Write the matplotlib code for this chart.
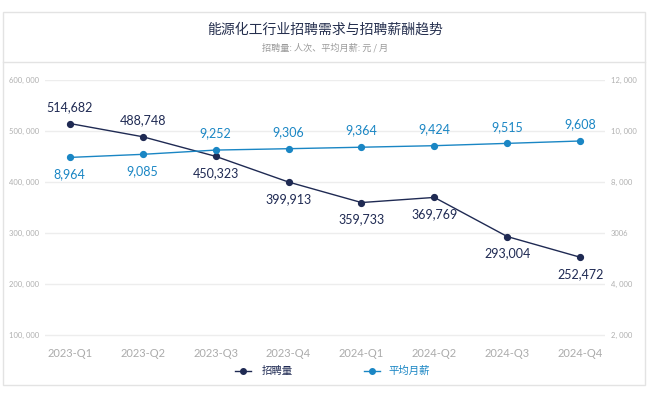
import matplotlib
matplotlib.use("Agg")
import matplotlib.pyplot as plt
from matplotlib.patches import Rectangle
from matplotlib.lines import Line2D

quarters = ["2023-Q1", "2023-Q2", "2023-Q3", "2023-Q4", "2024-Q1", "2024-Q2", "2024-Q3", "2024-Q4"]
recruit = [514682, 488748, 450323, 399913, 359733, 369769, 293004, 252472]
salary = [8964, 9085, 9252, 9306, 9364, 9424, 9515, 9608]
left_ticks = [100000, 200000, 300000, 400000, 500000, 600000]
left_labels = ["100, 000", "200, 000", "300, 000", "400, 000", "500, 000", "600, 000"]
right_ticks = [2000, 4000, 6000, 8000, 10000, 12000]
right_labels = ["2, 000", "4, 000", "3006", "8, 000", "10, 000", "12, 000"]
recruit_pos = ["above", "above", "below", "below", "below", "below", "below", "below"]
salary_pos = ["below", "below", "above", "above", "above", "above", "above", "above"]

CJK = ["Noto Sans CJK SC", "DejaVu Sans"]
NUM = ["Lato", "Noto Sans CJK SC", "DejaVu Sans"]
plt.rcParams['font.family'] = CJK

NAVY = "#1f2a53"
BLUE = "#1a86c4"
GRID = "#ededed"
TICK = "#b0b0b0"

fig = plt.figure(figsize=(6.5, 3.96), dpi=100)
W, H = 650, 396

# frame
fig.patches.append(Rectangle((3 / W, 1 - 385 / H), 642 / W, 373 / H, transform=fig.transFigure,
                             fill=False, edgecolor="#e3e3e3", linewidth=1.0))
fig.lines.append(Line2D([3 / W, 645 / W], [1 - 62 / H, 1 - 62 / H], transform=fig.transFigure,
                        color="#e3e3e3", linewidth=1.0))

fig.text(0.5, 1 - 30 / H, "能源化工行业招聘需求与招聘薪酬趋势", ha="center", va="center",
         fontsize=10, color="#26304f", family=CJK, fontweight="medium")
fig.text(0.5, 1 - 48 / H, "招聘量: 人次、平均月薪: 元 / 月", ha="center", va="center",
         fontsize=6.6, color="#9a9a9a", family=CJK)

ax = fig.add_axes([45 / W, 1 - 340 / H, 560 / W, 260 / H])
ax2 = ax.twinx()
x = list(range(len(quarters)))

ax.set_xlim(-0.34, 7.34)
ax.set_ylim(90200, 600000)
ax2.set_ylim(1804, 12000)

for a in (ax, ax2):
    for s in a.spines.values():
        s.set_visible(False)
    a.tick_params(length=0)

ax.set_yticks(left_ticks)
ax.set_yticklabels(left_labels, fontsize=5.5, color=TICK, family=NUM)
ax2.set_yticks(right_ticks)
ax2.set_yticklabels(right_labels, fontsize=5.5, color=TICK, family=NUM)
ax.tick_params(axis="y", pad=4)
ax2.tick_params(axis="y", pad=4)
ax.grid(axis="y", color=GRID, linewidth=1.0)
ax.set_axisbelow(True)
ax.set_xticks(x)
ax.set_xticklabels(quarters, fontsize=8, color="#ababab", family=NUM)
ax.tick_params(axis="x", pad=6)

ax.plot(x, recruit, color=NAVY, linewidth=1.0, marker="o", markersize=4.2, zorder=3)
ax2.plot(x, salary, color=BLUE, linewidth=1.0, marker="o", markersize=4.2, zorder=3)

for xi, v, p in zip(x, recruit, recruit_pos):
    off = 12 if p == "above" else -12
    ax.annotate(f"{v:,}", (xi, v), xytext=(0, off), textcoords="offset points",
                ha="center", va="center", fontsize=9, color=NAVY, family=NUM)
for xi, v, p in zip(x, salary, salary_pos):
    off = 12 if p == "above" else -12
    ax2.annotate(f"{v:,}", (xi, v), xytext=(0, off), textcoords="offset points",
                 ha="center", va="center", fontsize=9, color=BLUE, family=NUM)

# legend
ly = 1 - 371 / H
fig.lines.append(Line2D([235 / W, 251 / W], [ly, ly], transform=fig.transFigure, color=NAVY,
                        linewidth=1.0))
fig.lines.append(Line2D([243 / W], [ly], transform=fig.transFigure, color=NAVY, marker="o",
                        markersize=4, linestyle="None"))
fig.text(262 / W, ly, "招聘量", ha="left", va="center", fontsize=7.5, color=NAVY, family=CJK)
fig.lines.append(Line2D([364 / W, 380 / W], [ly, ly], transform=fig.transFigure, color=BLUE,
                        linewidth=1.0))
fig.lines.append(Line2D([372 / W], [ly], transform=fig.transFigure, color=BLUE, marker="o",
                        markersize=4, linestyle="None"))
fig.text(388 / W, ly, "平均月薪", ha="left", va="center", fontsize=7.5, color=BLUE, family=CJK)

fig.savefig("out.png", dpi=100)
